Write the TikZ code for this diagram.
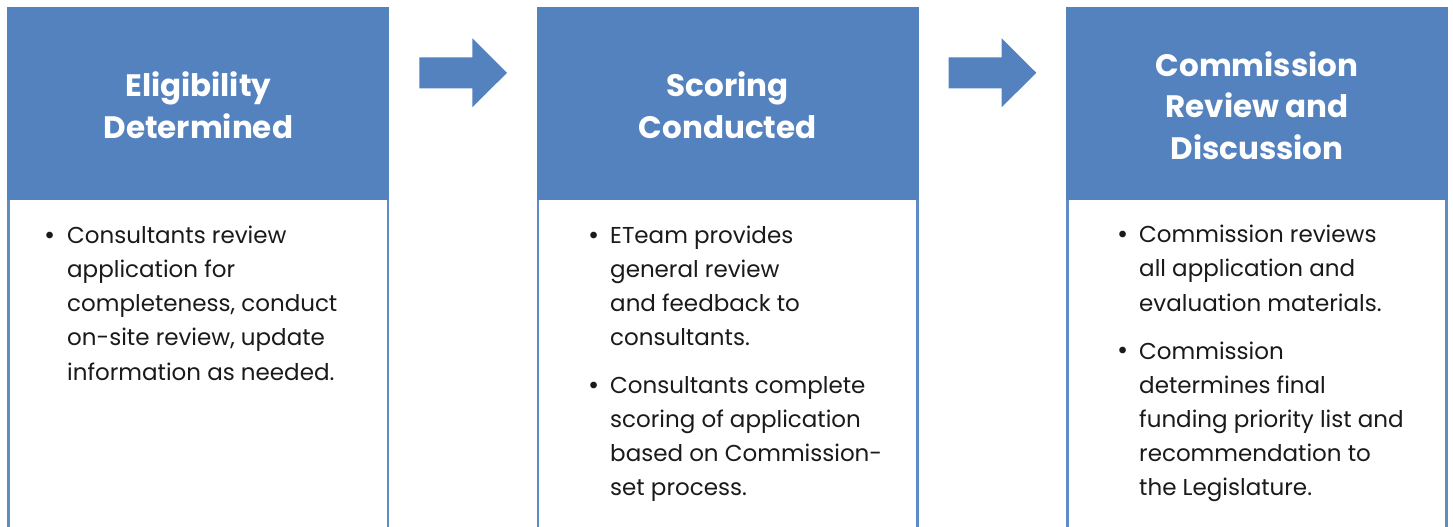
\documentclass[tikz,border=0pt]{standalone}
\usepackage{fontspec}
\setmainfont{Poppins}
\definecolor{hdr}{HTML}{5482BE}
\definecolor{bdr}{HTML}{5F8BC7}
\definecolor{ink}{HTML}{1A1A1A}
\begin{document}
\begin{tikzpicture}[x=1pt,y=-1pt,
  hdrbox/.style={fill=hdr, draw=none},
  bodybox/.style={fill=white, draw=bdr, line width=2.6pt},
  hdrtxt/.style={anchor=base, text=white, font=\fontsize{31}{41.5}\selectfont\bfseries, align=center, inner sep=0},
  bodytxt/.style={anchor=base west, align=left, inner sep=0, font=\fontsize{23}{34.2}\selectfont, text=ink},
  bul/.style={anchor=base west, inner sep=0, font=\fontsize{27}{34.2}\selectfont, text=ink},
  blockarrow/.style={fill=hdr, draw=none}]
\useasboundingbox (0,0) rectangle (1453,527);
\clip (0,0) rectangle (1453,527);
\fill[white] (0,0) rectangle (1453,527);

% column 1 (multi-line nodes are placed by the baseline of their last line)
\draw[bodybox] (8.6,199) rectangle (388,535);
\fill[hdrbox] (7.3,7.3) rectangle (389.3,200);
\node[hdrtxt] (h1) at (198.3,138.3) {Eligibility\\Determined};
\node[bul] (b1a) at (44,244) {•};
\node[bodytxt] (t1a) at (67,380.1) {Consultants review\\application for\\completeness, conduct\\on-site review, update\\information as needed.};

% column 2
\draw[bodybox] (538,199) rectangle (917.4,535);
\fill[hdrbox] (536.7,7.3) rectangle (918.7,200);
\node[hdrtxt] (h2) at (727.7,138.3) {Scoring\\Conducted};
\node[bul] (b2a) at (588,244) {•};
\node[bodytxt] (t2a) at (610,345.9) {ETeam provides\\general review\\and feedback to\\consultants.};
\node[bul] (b2b) at (588,394) {•};
\node[bodytxt] (t2b) at (610,495.9) {Consultants complete\\scoring of application\\based on Commission-\\set process.};

% column 3
\draw[bodybox] (1067.3,199) rectangle (1446.7,535);
\fill[hdrbox] (1066,7.3) rectangle (1448,200);
\node[hdrtxt] (h3) at (1257,159.3) {Commission\\Review and\\Discussion};
\node[bul] (b3a) at (1117,243.4) {•};
\node[bodytxt] (t3a) at (1139,311.1) {Commission reviews\\all application and\\evaluation materials.};
\node[bul] (b3b) at (1117,359.7) {•};
\node[bodytxt] (t3b) at (1139,495.8) {Commission\\determines final\\funding priority list and\\recommendation to\\the Legislature.};

% block arrows
\coordinate (a1) at (419.3,103.8);
\coordinate (a2) at (948.6,103.8);
\foreach \c in {a1,a2}{
  \fill[blockarrow] ([yshift=15.5pt]\c) -- ++(53,0) -- ++(0,19) -- ++(34.7,-34.5) -- ++(-34.7,-34.5) -- ++(0,19) -- ++(-53,0) -- cycle;
}
\end{tikzpicture}
\end{document}
